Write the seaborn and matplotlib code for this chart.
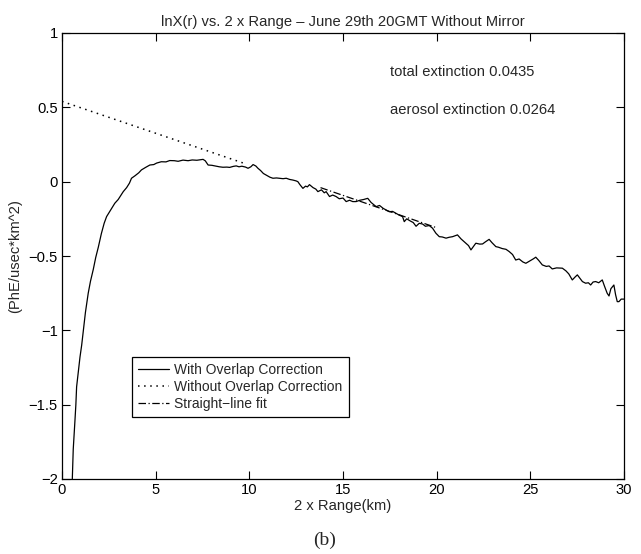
import numpy as np
import pandas as pd
import matplotlib
matplotlib.use("Agg")
import matplotlib.pyplot as plt
import seaborn as sns

# ---- data ----
range_with = [0.55, 0.58, 0.60, 0.65, 0.69, 0.74, 0.78, 0.85, 0.96, 1.05, 1.14, 1.25, 1.40, 1.52,
              1.67, 1.80, 1.94, 2.10, 2.25, 2.38, 2.55, 2.70, 2.82, 3.00, 3.15, 3.27, 3.45, 3.60,
              3.71, 3.90, 4.10, 4.24, 4.45, 4.69, 4.90, 5.05, 5.30, 5.55, 5.75, 6.00, 6.20, 6.46,
              6.73, 6.95, 7.20, 7.53, 7.65, 7.80, 8.00, 8.20, 8.40, 8.59, 8.80, 8.95, 9.15, 9.30,
              9.45, 9.60, 9.80, 9.93, 10.08, 10.20, 10.35, 10.46, 10.60, 10.75, 10.99, 11.10, 11.26,
              11.45, 11.61, 11.80, 11.97, 12.15, 12.32, 12.50, 12.59, 12.70, 12.86, 13.00, 13.10,
              13.21, 13.40, 13.55, 13.66, 13.85, 14.00, 14.10, 14.28, 14.45, 14.63, 14.80, 15.00,
              15.17, 15.35, 15.52, 15.70, 15.90, 16.10, 16.32, 16.50, 16.77, 16.95, 17.15, 17.30,
              17.47, 17.65, 17.83, 18.00, 18.18, 18.27, 18.40, 18.60, 18.75, 18.90, 19.07, 19.25,
              19.40, 19.60, 19.78, 19.96, 20.14, 20.30, 20.50, 20.67, 20.85, 21.11, 21.30, 21.56,
              21.70, 21.83, 22.09, 22.30, 22.45, 22.60, 22.80, 22.95, 23.16, 23.30, 23.50, 23.70,
              23.87, 24.05, 24.22, 24.40, 24.60, 24.76, 24.95, 25.15, 25.29, 25.45, 25.64, 25.85,
              26.00, 26.17, 26.40, 26.71, 26.90, 27.05, 27.24, 27.40, 27.51, 27.65, 27.78, 27.95,
              28.10, 28.22, 28.35, 28.49, 28.65, 28.84, 28.95, 29.10, 29.20, 29.30, 29.46, 29.55,
              29.64, 29.73, 29.85, 30.00]
lnx_with = [-2.00, -1.88, -1.80, -1.70, -1.61, -1.50, -1.38, -1.30, -1.18, -1.10, -1.00, -0.88,
            -0.75, -0.67, -0.59, -0.51, -0.44, -0.35, -0.28, -0.235, -0.20, -0.17, -0.145, -0.12,
            -0.09, -0.067, -0.04, -0.01, 0.023, 0.040, 0.060, 0.079, 0.095, 0.112, 0.115, 0.125,
            0.134, 0.133, 0.142, 0.141, 0.137, 0.145, 0.141, 0.146, 0.144, 0.150, 0.140, 0.112,
            0.110, 0.105, 0.100, 0.097, 0.098, 0.096, 0.103, 0.106, 0.100, 0.104, 0.098, 0.090,
            0.100, 0.115, 0.105, 0.090, 0.075, 0.055, 0.038, 0.030, 0.023, 0.025, 0.023, 0.020,
            0.023, 0.015, 0.011, 0.005, 0.000, -0.020, -0.045, -0.030, -0.035, -0.020, -0.040,
            -0.050, -0.067, -0.055, -0.075, -0.067, -0.100, -0.090, -0.100, -0.115, -0.110, -0.134,
            -0.125, -0.134, -0.134, -0.125, -0.120, -0.112, -0.140, -0.168, -0.160, -0.180, -0.190,
            -0.202, -0.200, -0.213, -0.225, -0.235, -0.269, -0.250, -0.265, -0.275, -0.300, -0.280,
            -0.285, -0.300, -0.295, -0.313, -0.347, -0.370, -0.372, -0.380, -0.374, -0.370, -0.358,
            -0.385, -0.414, -0.430, -0.459, -0.414, -0.420, -0.419, -0.405, -0.388, -0.410, -0.437,
            -0.441, -0.450, -0.455, -0.470, -0.490, -0.527, -0.520, -0.540, -0.549, -0.535, -0.520,
            -0.508, -0.530, -0.560, -0.570, -0.567, -0.587, -0.580, -0.582, -0.600, -0.620, -0.661,
            -0.640, -0.627, -0.650, -0.672, -0.683, -0.680, -0.695, -0.675, -0.672, -0.680, -0.661,
            -0.700, -0.750, -0.769, -0.720, -0.695, -0.760, -0.807, -0.807, -0.790, -0.790]

range_without = [0.0, 9.8]
lnx_without = [0.54, 0.12]

range_fit = [13.8, 20.0]
lnx_fit = [-0.04, -0.31]

legend_labels = ["With Overlap Correction", "Without Overlap Correction", "Straight\u2212line fit"]
x_ticks = [0, 5, 10, 15, 20, 25, 30]
y_ticks = [-2, -1.5, -1, -0.5, 0, 0.5, 1]
y_ticklabels = ["\u22122", "\u22121.5", "\u22121", "\u22120.5", "0", "0.5", "1"]

# ---- style ----
sns.set_theme(style="ticks")
plt.rcParams["font.family"] = ["Liberation Sans", "DejaVu Sans"]
plt.rcParams["axes.linewidth"] = 0.9

FS = 10.6

fig = plt.figure(figsize=(6.41, 5.54), dpi=100)
ax = fig.add_axes([62 / 641, 1 - 479 / 554, (624 - 62) / 641, (479 - 33) / 554])

df_with = pd.DataFrame({"x": range_with, "y": lnx_with})
df_without = pd.DataFrame({"x": range_without, "y": lnx_without})
df_fit = pd.DataFrame({"x": range_fit, "y": lnx_fit})

sns.lineplot(data=df_with, x="x", y="y", ax=ax, color="black", lw=0.9,
             sort=False, estimator=None, label=legend_labels[0])
sns.lineplot(data=df_without, x="x", y="y", ax=ax, color="black", lw=1.1,
             linestyle=(0, (1, 3)), sort=False, estimator=None, label=legend_labels[1])
sns.lineplot(data=df_fit, x="x", y="y", ax=ax, color="black", lw=0.9,
             linestyle=(0, (6, 2, 1, 2)), sort=False, estimator=None, label=legend_labels[2])

ax.set_xlim(0, 30)
ax.set_ylim(-2, 1)
ax.set_xticks(x_ticks)
ax.set_xticklabels([str(t) for t in x_ticks])
ax.set_yticks(y_ticks)
ax.set_yticklabels(y_ticklabels)
ax.tick_params(direction="in", length=5.5, width=0.8, top=True, right=True,
               labelsize=FS, colors="black", pad=3)
for s in ax.spines.values():
    s.set_visible(True)
    s.set_color("black")

ax.set_xlabel("2 x Range(km)", fontsize=FS, labelpad=1)
ax.set_ylabel("(PhE/usec*km^2)", fontsize=FS, labelpad=5)
ax.set_title("lnX(r) vs. 2 x Range \u2013 June 29th 20GMT Without Mirror", fontsize=FS, pad=5)

ax.text(17.5, 0.74, "total extinction 0.0435", fontsize=FS, va="center", ha="left")
ax.text(17.5, 0.48, "aerosol extinction 0.0264", fontsize=FS, va="center", ha="left")

leg = ax.legend(loc="upper left", bbox_to_anchor=((132 - 62) / 562, (479 - 357) / 446),
                fontsize=10, frameon=True, fancybox=False, framealpha=1, edgecolor="black",
                borderaxespad=0, handlelength=2.2, borderpad=0.45, labelspacing=0.2,
                handletextpad=0.4)
leg.get_frame().set_linewidth(0.9)

fig.text(325 / 641, 1 - 540 / 554, "(b)", fontsize=14, ha="center", va="center",
         family=["Liberation Serif", "DejaVu Serif"])

fig.savefig("out.png", dpi=100)
